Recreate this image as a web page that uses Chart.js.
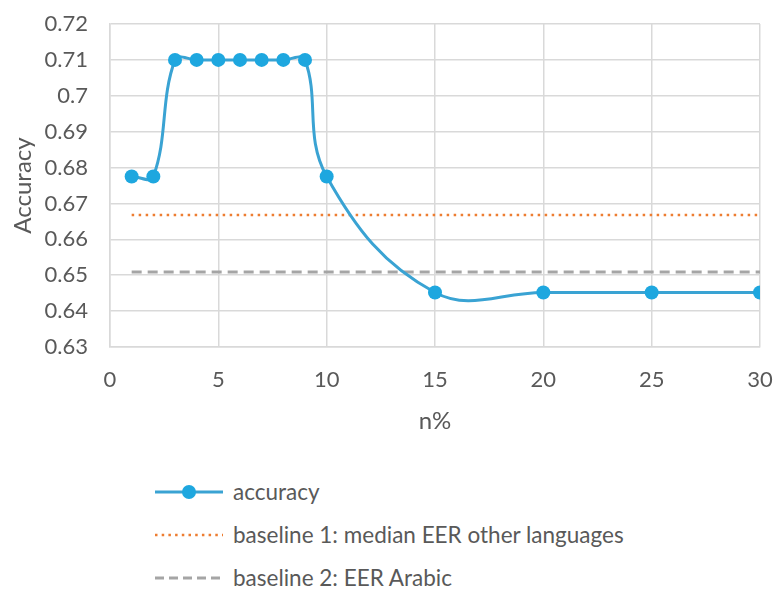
<!DOCTYPE html>
<html>
<head>
<meta charset="utf-8">
<script src="https://cdn.jsdelivr.net/npm/chart.js@4/dist/chart.umd.min.js"></script>
<style>
  html, body { margin: 0; padding: 0; background: #fff; }
  #wrap { position: relative; width: 774px; height: 594px; }
  #chart { position: absolute; left: 0; top: 0; }
  #legend { position: absolute; left: 155px; top: 470px; font-family: Lato, "Open Sans", sans-serif; font-size: 22.5px; color: #595959; }
  .row { display: flex; align-items: center; height: 43px; }
  .row svg { margin-right: 10px; }
</style>
</head>
<body>
<div id="wrap">
  <canvas id="chart" width="774" height="440"></canvas>
  <div id="legend"></div>
</div>
<script>
// n% values and measured accuracy
const nPercent = [1, 2, 3, 4, 5, 6, 7, 8, 9, 10, 15, 20, 25, 30];
const accuracy = [0.6775, 0.6775, 0.71, 0.71, 0.71, 0.71, 0.71, 0.71, 0.71, 0.6775, 0.6452, 0.6452, 0.6452, 0.6452];

// reference levels, drawn across the measured range
const baselineSpan = [1, 30];
const baseline1 = 0.6668;  // median EER other languages
const baseline2 = 0.6509;  // EER Arabic

const seriesNames = ['accuracy', 'baseline 1: median EER other languages', 'baseline 2: EER Arabic'];
const xTicks = { min: 0, max: 30, step: 5 };
const yTicks = { min: 0.63, max: 0.72, step: 0.01 };

const BLUE = '#3aa3d3', DOT = '#1ea7df', ORANGE = '#ed7d31', GRAY = '#a5a5a5', TEXT = '#595959';
const FONT = 'Lato, "Open Sans", sans-serif';

const ctx = document.getElementById('chart').getContext('2d');
new Chart(ctx, {
  type: 'line',
  data: {
    datasets: [
      {
        label: seriesNames[0],
        data: nPercent.map((x, i) => ({ x, y: accuracy[i] })),
        borderColor: BLUE, borderWidth: 3,
        pointRadius: 7, pointBackgroundColor: DOT, pointBorderColor: DOT, pointBorderWidth: 0,
        tension: 0.4, order: 0
      },
      {
        label: seriesNames[1],
        data: baselineSpan.map(x => ({ x, y: baseline1 })),
        borderColor: ORANGE, borderWidth: 2.5, borderDash: [2.5, 4.5],
        pointRadius: 0, tension: 0, order: 1
      },
      {
        label: seriesNames[2],
        data: baselineSpan.map(x => ({ x, y: baseline2 })),
        borderColor: GRAY, borderWidth: 3, borderDash: [10, 6],
        pointRadius: 0, tension: 0, order: 2
      }
    ]
  },
  options: {
    responsive: false,
    animation: false,
    layout: { padding: { top: 24, right: 14, left: 5, bottom: 0 } },
    plugins: { legend: { display: false }, tooltip: { enabled: false } },
    scales: {
      x: {
        type: 'linear', min: xTicks.min, max: xTicks.max,
        ticks: { stepSize: xTicks.step, color: TEXT, font: { family: FONT, size: 22 }, padding: 20 },
        grid: { color: '#d9d9d9', lineWidth: 1.5, drawTicks: false },
        border: { color: '#d9d9d9', width: 1.5 },
        title: { display: true, text: 'n%', color: TEXT, font: { family: FONT, size: 24 }, padding: { top: 4 } },
        afterFit: s => { s.height = 93; s.paddingLeft = 0; s.paddingRight = 0; }
      },
      y: {
        min: yTicks.min, max: yTicks.max,
        ticks: { stepSize: yTicks.step, color: TEXT, font: { family: FONT, size: 22 }, padding: 22,
                 callback: v => String(+v.toFixed(2)) },
        grid: { color: '#d9d9d9', lineWidth: 1.5, drawTicks: false },
        border: { color: '#d9d9d9', width: 1.5 },
        title: { display: true, text: 'Accuracy', color: TEXT, font: { family: FONT, size: 24 }, padding: { bottom: 0 } },
        afterFit: s => { s.width = 105; s.paddingTop = 0; s.paddingBottom = 0; }
      }
    }
  }
});

// legend rows below the chart
const legend = document.getElementById('legend');
const markers = [
  `<svg width="68" height="20"><line x1="0" y1="10" x2="68" y2="10" stroke="${BLUE}" stroke-width="3"/><circle cx="34" cy="10" r="7" fill="${DOT}"/></svg>`,
  `<svg width="68" height="20"><line x1="0" y1="10" x2="68" y2="10" stroke="${ORANGE}" stroke-width="2.5" stroke-dasharray="2.5 4.2"/></svg>`,
  `<svg width="68" height="20"><line x1="0" y1="10" x2="68" y2="10" stroke="${GRAY}" stroke-width="3" stroke-dasharray="9 5"/></svg>`
];
seriesNames.forEach((name, i) => {
  const row = document.createElement('div');
  row.className = 'row';
  row.innerHTML = markers[i] + '<span>' + name + '</span>';
  legend.appendChild(row);
});
</script>
</body>
</html>
